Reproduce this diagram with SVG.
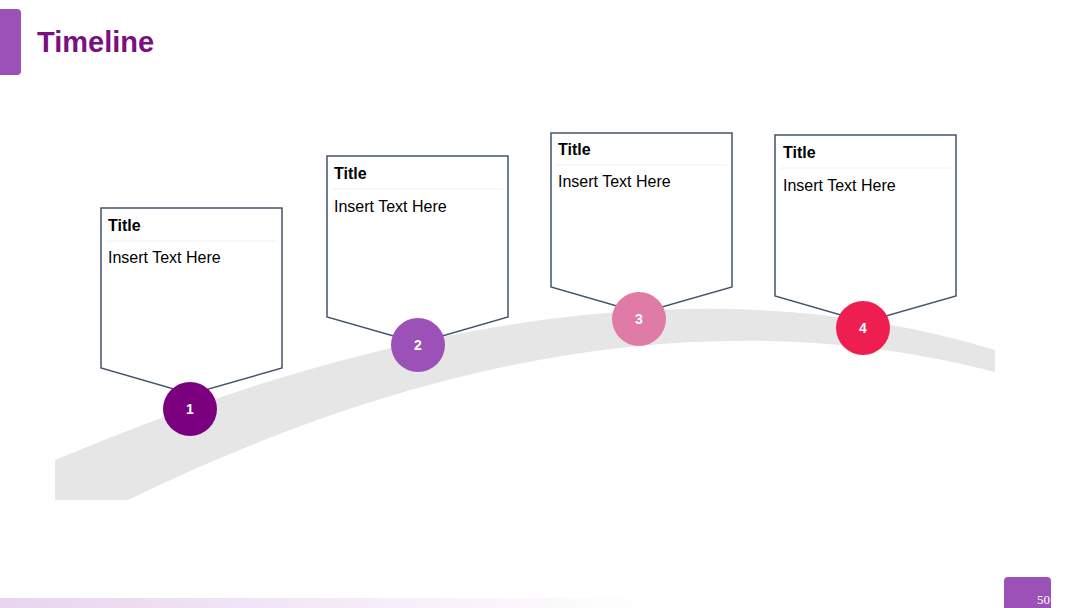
<svg xmlns="http://www.w3.org/2000/svg" width="1080" height="608" viewBox="0 0 1080 608">
<defs>
<linearGradient id="bg" x1="0" x2="1" y1="0" y2="0"><stop offset="0" stop-color="#e8d4ef"/><stop offset="0.6" stop-color="#ffffff"/></linearGradient>
<style>
.box{fill:#fff;stroke:#44546a;stroke-width:1.5}
.sep{stroke:#f0f0f0;stroke-width:1}
.t{font-family:"Liberation Sans",Arial,sans-serif;font-weight:bold;font-size:16px;fill:#000}
.b{font-family:"Liberation Sans",Arial,sans-serif;font-size:16px;fill:#000}
.n{font-family:"Liberation Sans",Arial,sans-serif;font-weight:bold;font-size:14px;fill:#fff;text-anchor:middle}
</style>
</defs>
<rect width="1080" height="608" fill="#fff"/>
<rect x="-10" y="9" width="31" height="66" rx="4" fill="#9b51b8"/>
<text x="37" y="52" font-family="Liberation Sans,Arial,sans-serif" font-weight="bold" font-size="29" fill="#7a1080">Timeline</text>
<rect x="0" y="598" width="1080" height="10" fill="url(#bg)"/>
<rect x="1004" y="577" width="47" height="40" rx="4" fill="#9b51b8"/>
<text x="1050" y="604" font-family="Liberation Serif,serif" font-size="13" fill="#fff" text-anchor="end">50</text>
<path d="M55,460 Q600,230 995,350 L995,372 Q600,270 128,500 L55,500 Z" fill="#e6e6e6"/>
<g id="node1">
<path class="box" d="M101,208 H282 V368 L191,394 L101,368 Z"/>
<line class="sep" x1="106" y1="241" x2="277" y2="241"/>
<text class="t" x="108" y="231">Title</text><text class="b" x="108" y="263">Insert Text Here</text>
<circle cx="190" cy="409" r="27" fill="#7a0080"/><text class="n" x="190" y="414">1</text>
</g>
<g id="node2">
<path class="box" d="M327,156 H508 V317 L418,343 L327,317 Z"/>
<line class="sep" x1="332" y1="189" x2="503" y2="189"/>
<text class="t" x="334" y="179">Title</text><text class="b" x="334" y="212">Insert Text Here</text>
<circle cx="418" cy="345" r="27" fill="#9b51b8"/><text class="n" x="418" y="350">2</text>
</g>
<g id="node3">
<path class="box" d="M551,133 H732 V287 L641,313 L551,287 Z"/>
<line class="sep" x1="556" y1="165" x2="727" y2="165"/>
<text class="t" x="558" y="155">Title</text><text class="b" x="558" y="187">Insert Text Here</text>
<circle cx="639" cy="319" r="27" fill="#e07ba8"/><text class="n" x="639" y="324">3</text>
</g>
<g id="node4">
<path class="box" d="M775,135 H956 V296 L865,322 L775,296 Z"/>
<line class="sep" x1="780" y1="168" x2="951" y2="168"/>
<text class="t" x="783" y="158">Title</text><text class="b" x="783" y="191">Insert Text Here</text>
<circle cx="863" cy="328" r="27" fill="#ee1e51"/><text class="n" x="863" y="333">4</text>
</g>
<g id="connectors"/>
</svg>
